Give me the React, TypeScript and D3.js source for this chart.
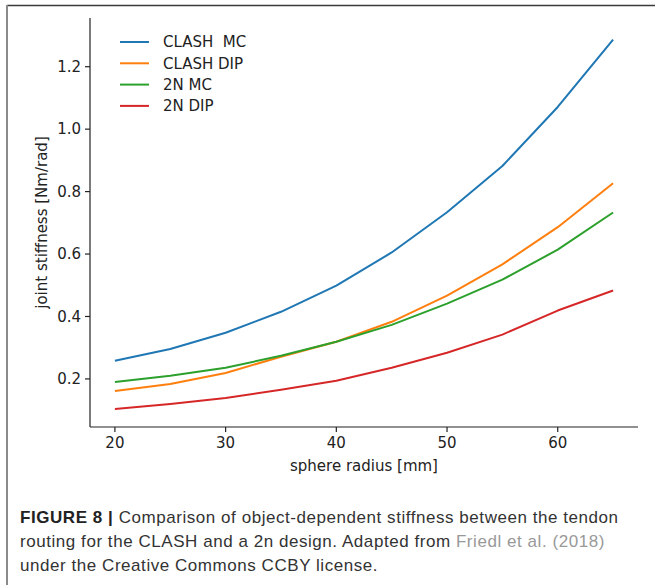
import React from 'react'
import * as d3 from 'd3'

// sphere radius [mm]
const radius = [20, 25, 30, 35, 40, 45, 50, 55, 60, 65]

// joint stiffness [Nm/rad]
const clashMC = [0.258, 0.296, 0.348, 0.415, 0.499, 0.605, 0.734, 0.882, 1.071, 1.287]
const clashDIP = [0.161, 0.184, 0.219, 0.271, 0.319, 0.383, 0.467, 0.567, 0.686, 0.827]
const twoNMC = [0.19, 0.21, 0.236, 0.274, 0.319, 0.373, 0.441, 0.518, 0.614, 0.733]
const twoNDIP = [0.104, 0.12, 0.139, 0.165, 0.194, 0.236, 0.284, 0.342, 0.419, 0.483]

const seriesNames = ['CLASH  MC', 'CLASH DIP', '2N MC', '2N DIP']
const seriesColors = ['#1f77b4', '#ff7f0e', '#2ca02c', '#d62728']
const seriesValues = [clashMC, clashDIP, twoNMC, twoNDIP]

const xTicks = [20, 30, 40, 50, 60]
const yTicks = [0.2, 0.4, 0.6, 0.8, 1.0, 1.2]

const W = 655
const H = 585
const plot = {left: 90, right: 638, top: 18, bottom: 427}
const tickFont = 'DejaVu Sans, sans-serif'
const fs = 15

export default function App() {
  const x = d3.scaleLinear().domain([17.75, 67.25]).range([plot.left, plot.right])
  const y = d3.scaleLinear().domain([0.046, 1.356]).range([plot.bottom, plot.top])

  const line = d3
    .line<[number, number]>()
    .x(d => x(d[0]))
    .y(d => y(d[1]))

  return (
    <div style={{position: 'fixed', left: 0, top: 0}}>
      <svg width={W} height={H} style={{display: 'block', background: '#fff'}}>
        {/* page frame */}
        <line x1={7} x2={W} y1={5.5} y2={5.5} stroke="#3a3a3a" strokeWidth={1.5} />
        <line x1={7} x2={7} y1={5} y2={H} stroke="#8a8a8a" strokeWidth={2} />

        {/* series */}
        {seriesValues.map((vals, i) => (
          <path
            key={seriesNames[i]}
            d={line(radius.map((r, j) => [r, vals[j]] as [number, number])) || ''}
            fill="none"
            stroke={seriesColors[i]}
            strokeWidth={2}
            strokeLinejoin="round"
          />
        ))}

        {/* y axis */}
        <line x1={plot.left} x2={plot.left} y1={plot.top} y2={plot.bottom} stroke="#222" strokeWidth={1.2} />
        {yTicks.map(t => (
          <g key={t} transform={`translate(${plot.left},${y(t)})`}>
            <line x1={-5} x2={0} stroke="#222" strokeWidth={1.2} />
            <text x={-9} dy="0.35em" textAnchor="end" fontSize={fs} fontFamily={tickFont} fill="#222">
              {t.toFixed(1)}
            </text>
          </g>
        ))}

        {/* x axis */}
        <line x1={plot.left} x2={plot.right} y1={plot.bottom} y2={plot.bottom} stroke="#222" strokeWidth={1.2} />
        {xTicks.map(t => (
          <g key={t} transform={`translate(${x(t)},${plot.bottom})`}>
            <line y1={0} y2={5} stroke="#222" strokeWidth={1.2} />
            <text y={21} textAnchor="middle" fontSize={fs} fontFamily={tickFont} fill="#222">
              {t}
            </text>
          </g>
        ))}

        {/* axis labels */}
        <text
          transform={`translate(47,${(plot.top + plot.bottom) / 2}) rotate(-90)`}
          textAnchor="middle"
          fontSize={fs}
          fontFamily={tickFont}
          fill="#222"
        >
          joint stiffness [Nm/rad]
        </text>
        <text x={(plot.left + plot.right) / 2} y={471} textAnchor="middle" fontSize={fs} fontFamily={tickFont} fill="#222">
          sphere radius [mm]
        </text>

        {/* legend */}
        {seriesNames.map((name, i) => (
          <g key={name} transform={`translate(120,${42 + i * 21.3})`}>
            <line x1={0} x2={29} stroke={seriesColors[i]} strokeWidth={2} />
            <text x={43} dy="0.35em" fontSize={fs} fontFamily={tickFont} fill="#222" style={{whiteSpace: 'pre'}}>
              {name}
            </text>
          </g>
        ))}

        {/* caption */}
        <g fontFamily="Liberation Sans, Arial, sans-serif" fontSize={17} fill="#333" letterSpacing={0.55}>
          <text x={20} y={523}>
            <tspan fontWeight="bold" fill="#222">FIGURE 8 |</tspan> Comparison of object-dependent stiffness between the tendon
          </text>
          <text x={20} y={547}>
            routing for the CLASH and a 2n design. Adapted from <tspan fill="#999">Friedl et al. (2018)</tspan>
          </text>
          <text x={20} y={571}>under the Creative Commons CCBY license.</text>
        </g>
      </svg>
    </div>
  )
}
